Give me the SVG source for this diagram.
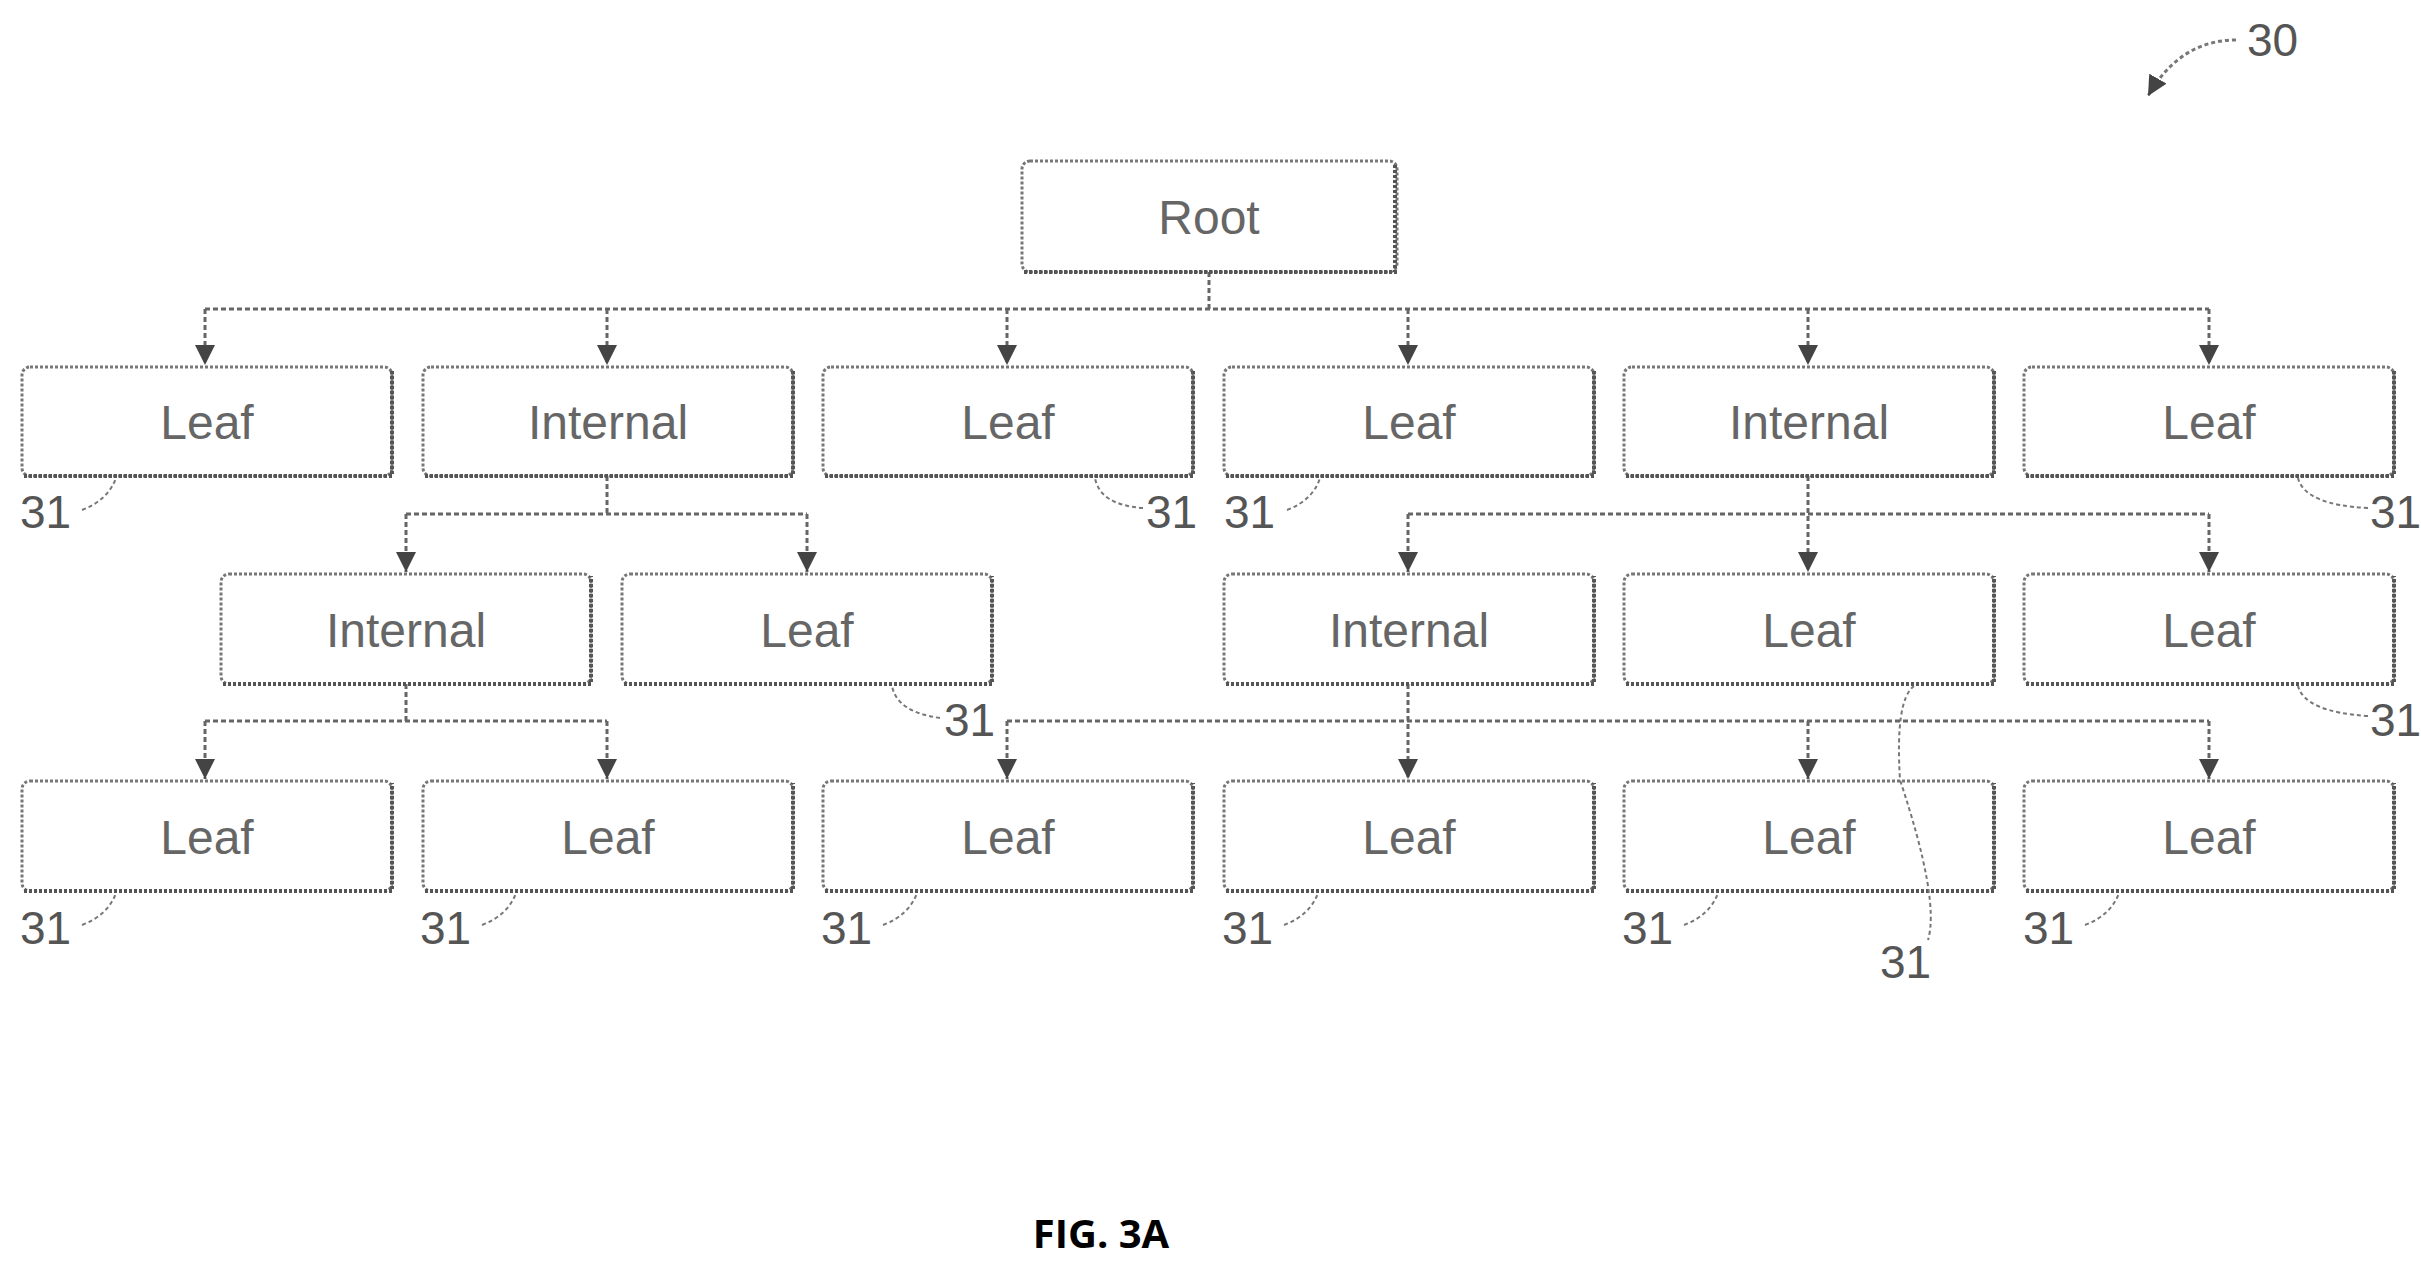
<svg xmlns="http://www.w3.org/2000/svg" width="2421" height="1271" viewBox="0 0 2421 1271">
<style>
.b{fill:#fff;stroke:#777;stroke-width:3;stroke-dasharray:3 2}
.s{fill:none;stroke:#555;stroke-width:4;stroke-dasharray:3 2}
.t{font-family:"Liberation Sans",Arial,sans-serif;font-size:48px;fill:#666;text-anchor:middle}
.n{font-family:"Liberation Sans",Arial,sans-serif;font-size:46px;fill:#555}
.c{fill:none;stroke:#666;stroke-width:3;stroke-dasharray:5 3}
.ar{fill:none;stroke:#666;stroke-width:3;stroke-dasharray:5 3;marker-end:url(#a2)}
.l{fill:none;stroke:#777;stroke-width:2;stroke-dasharray:4 3}
</style>
<defs>
<marker id="a" viewBox="0 0 12 12" markerWidth="20" markerHeight="20" refX="12" refY="6" orient="auto" markerUnits="userSpaceOnUse"><path d="M0,0 L12,6 L0,12 Z" fill="#444"/></marker>
<marker id="a2" viewBox="0 0 12 12" markerWidth="20" markerHeight="20" refX="12" refY="6" orient="auto" markerUnits="userSpaceOnUse"><path d="M0,0 L12,6 L0,12 Z" fill="#444"/></marker></defs>
<g id="connectors">
<path class="c" d="M1209 272V309M205 309H2209"/>
<path class="ar" d="M205 309V365"/><path class="ar" d="M607 309V365"/><path class="ar" d="M1007 309V365"/><path class="ar" d="M1408 309V365"/><path class="ar" d="M1808 309V365"/><path class="ar" d="M2209 309V365"/>
<path class="c" d="M607 476V514M406 514H807"/>
<path class="ar" d="M406 514V572"/><path class="ar" d="M807 514V572"/>
<path class="c" d="M1408 514H2209"/>
<path class="ar" d="M1808 476V572"/><path class="ar" d="M1408 514V572"/><path class="ar" d="M2209 514V572"/>
<path class="c" d="M406 684V721M205 721H607"/>
<path class="ar" d="M205 721V779"/><path class="ar" d="M607 721V779"/>
<path class="c" d="M1007 721H2209"/>
<path class="ar" d="M1408 684V779"/><path class="ar" d="M1007 721V779"/><path class="ar" d="M1808 721V779"/><path class="ar" d="M2209 721V779"/>
</g>
<g id="root"><rect class="b" x="1022" y="161" width="375" height="111" rx="8"/><path class="s" d="M1024 272H1395V163"/><text class="t" x="1209" y="234">Root</text></g>
<g id="r1"><rect class="b" x="22" y="367" width="370" height="109" rx="8"/><path class="s" d="M24 476H392V369"/><text class="t" x="207" y="439">Leaf</text></g>
<g id="r2"><rect class="b" x="423" y="367" width="370" height="109" rx="8"/><path class="s" d="M425 476H793V369"/><text class="t" x="608" y="439">Internal</text></g>
<g id="r3"><rect class="b" x="823" y="367" width="370" height="109" rx="8"/><path class="s" d="M825 476H1193V369"/><text class="t" x="1008" y="439">Leaf</text></g>
<g id="r4"><rect class="b" x="1224" y="367" width="370" height="109" rx="8"/><path class="s" d="M1226 476H1594V369"/><text class="t" x="1409" y="439">Leaf</text></g>
<g id="r5"><rect class="b" x="1624" y="367" width="370" height="109" rx="8"/><path class="s" d="M1626 476H1994V369"/><text class="t" x="1809" y="439">Internal</text></g>
<g id="r6"><rect class="b" x="2024" y="367" width="370" height="109" rx="8"/><path class="s" d="M2026 476H2394V369"/><text class="t" x="2209" y="439">Leaf</text></g>
<g id="m1"><rect class="b" x="221" y="574" width="370" height="110" rx="8"/><path class="s" d="M223 684H591V576"/><text class="t" x="406" y="647">Internal</text></g>
<g id="m2"><rect class="b" x="622" y="574" width="370" height="110" rx="8"/><path class="s" d="M624 684H992V576"/><text class="t" x="807" y="647">Leaf</text></g>
<g id="m3"><rect class="b" x="1224" y="574" width="370" height="110" rx="8"/><path class="s" d="M1226 684H1594V576"/><text class="t" x="1409" y="647">Internal</text></g>
<g id="m4"><rect class="b" x="1624" y="574" width="370" height="110" rx="8"/><path class="s" d="M1626 684H1994V576"/><text class="t" x="1809" y="647">Leaf</text></g>
<g id="m5"><rect class="b" x="2024" y="574" width="370" height="110" rx="8"/><path class="s" d="M2026 684H2394V576"/><text class="t" x="2209" y="647">Leaf</text></g>
<g id="b1"><rect class="b" x="22" y="781" width="370" height="110" rx="8"/><path class="s" d="M24 891H392V783"/><text class="t" x="207" y="854">Leaf</text></g>
<g id="b2"><rect class="b" x="423" y="781" width="370" height="110" rx="8"/><path class="s" d="M425 891H793V783"/><text class="t" x="608" y="854">Leaf</text></g>
<g id="b3"><rect class="b" x="823" y="781" width="370" height="110" rx="8"/><path class="s" d="M825 891H1193V783"/><text class="t" x="1008" y="854">Leaf</text></g>
<g id="b4"><rect class="b" x="1224" y="781" width="370" height="110" rx="8"/><path class="s" d="M1226 891H1594V783"/><text class="t" x="1409" y="854">Leaf</text></g>
<g id="b5"><rect class="b" x="1624" y="781" width="370" height="110" rx="8"/><path class="s" d="M1626 891H1994V783"/><text class="t" x="1809" y="854">Leaf</text></g>
<g id="b6"><rect class="b" x="2024" y="781" width="370" height="110" rx="8"/><path class="s" d="M2026 891H2394V783"/><text class="t" x="2209" y="854">Leaf</text></g>
<g id="labels">
<path class="l" d="M82 510Q108 500 116 478"/><text class="n" x="20" y="528">31</text>
<path class="l" d="M1143 508Q1100 505 1095 478"/><text class="n" x="1146" y="528">31</text>
<path class="l" d="M1287 510Q1313 500 1320 478"/><text class="n" x="1224" y="528">31</text>
<path class="l" d="M2368 508Q2305 505 2298 478"/><text class="n" x="2370" y="528">31</text>
<path class="l" d="M940 718Q897 712 892 686"/><text class="n" x="944" y="736">31</text>
<path class="l" d="M2368 716Q2305 712 2298 686"/><text class="n" x="2370" y="736">31</text>
<path class="l" d="M1914 686Q1895 700 1900 780Q1940 900 1928 940"/><text class="n" x="1880" y="978">31</text>
<path class="l" d="M82 925Q108 915 116 893"/><text class="n" x="20" y="944">31</text>
<path class="l" d="M482 925Q508 915 516 893"/><text class="n" x="420" y="944">31</text>
<path class="l" d="M883 925Q909 915 917 893"/><text class="n" x="821" y="944">31</text>
<path class="l" d="M1284 925Q1310 915 1318 893"/><text class="n" x="1222" y="944">31</text>
<path class="l" d="M1684 925Q1710 915 1718 893"/><text class="n" x="1622" y="944">31</text>
<path class="l" d="M2085 925Q2111 915 2119 893"/><text class="n" x="2023" y="944">31</text>
<path class="l" style="stroke-width:3" marker-end="url(#a)" d="M2236 40Q2180 40 2148 96"/><text class="n" x="2247" y="56">30</text>
<text x="1101" y="1248" text-anchor="middle" style="font-family:'Open Sans','Liberation Sans',sans-serif;font-weight:bold;font-size:40px;fill:#000">FIG. 3A</text>
</g>
</svg>
